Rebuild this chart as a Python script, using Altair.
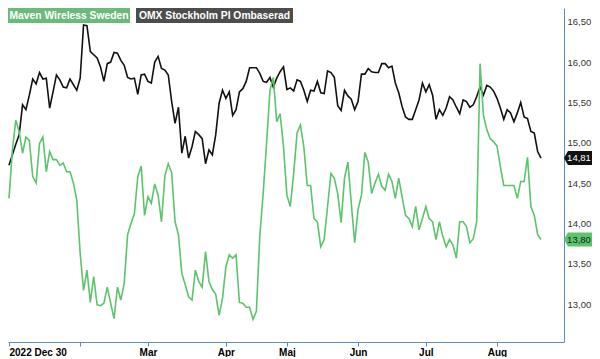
import altair as alt
import pandas as pd

series_names = ["Maven Wireless Sweden", "OMX Stockholm PI Ombaserad"]

maven = [
    14.31, 14.91, 15.28, 15.14, 14.87, 15.07, 15.03, 14.58, 14.50, 14.99,
    15.07, 14.64, 14.89, 14.79, 14.79, 14.72, 14.75, 14.64, 14.64, 14.50,
    14.29, 13.63, 13.17, 13.42, 13.02, 13.34, 12.99, 12.98, 13.01, 13.21,
    13.01, 12.82, 13.21, 13.05, 13.26, 13.86, 14.00, 14.12, 14.58, 14.71,
    14.10, 14.33, 14.25, 14.49, 14.35, 14.02, 14.59, 14.74, 14.63, 14.02,
    13.86, 13.38, 13.24, 13.09, 13.05, 13.42, 13.28, 13.21, 13.65, 13.28,
    13.18, 13.12, 12.86, 13.07, 13.46, 13.61, 13.57, 13.61, 13.02, 13.01,
    12.96, 12.96, 12.81, 12.91, 13.84, 14.37, 14.99, 15.65, 15.81, 15.26,
    15.36, 14.95, 14.35, 14.21, 14.62, 15.12, 15.22, 14.95, 14.47, 14.47,
    14.06, 14.02, 13.71, 13.80, 14.21, 14.62, 14.56, 14.37, 14.01, 14.56,
    14.76, 14.25, 13.76, 14.17, 14.35, 14.88, 14.76, 14.37, 14.50, 14.61,
    14.46, 14.41, 14.61, 14.52, 14.31, 14.56, 14.33, 14.10, 14.06, 13.96,
    14.21, 13.92, 14.06, 14.21, 14.06, 14.02, 13.80, 14.02, 13.84, 13.71,
    13.80, 13.73, 13.57, 14.02, 14.02, 13.96, 13.76, 13.81, 14.02, 15.98,
    15.34, 15.16, 15.05, 15.01, 14.96, 14.70, 14.47, 14.47, 14.47, 14.47,
    14.31, 14.52, 14.52, 14.82, 14.21, 14.10, 13.86, 13.80,
]

omx = [
    14.72, 14.85, 14.98, 15.10, 15.47, 15.41, 15.59, 15.79, 15.73, 15.87,
    15.79, 15.80, 15.43, 15.63, 15.84, 15.78, 15.69, 15.68, 15.79, 15.72,
    15.65, 15.80, 16.46, 16.45, 16.13, 16.09, 16.05, 15.94, 15.76, 15.98,
    16.00, 16.12, 16.11, 16.02, 15.96, 15.81, 15.79, 15.80, 15.60, 15.84,
    15.85, 15.76, 15.74, 16.00, 16.07, 15.92, 15.90, 15.84, 15.51, 15.24,
    15.44, 14.87, 15.08, 14.81, 14.95, 15.14, 15.10, 15.05, 14.74, 14.91,
    14.85, 15.10, 15.49, 15.65, 15.55, 15.63, 15.34, 15.41, 15.63, 15.67,
    15.76, 15.93, 15.93, 15.93, 15.86, 15.76, 15.75, 15.81, 15.69, 15.80,
    15.88, 15.94, 15.66, 15.68, 15.64, 15.78, 15.76, 15.65, 15.51, 15.65,
    15.64, 15.76, 15.62, 15.61, 15.89, 15.87, 15.81, 15.46, 15.40, 15.65,
    15.58, 15.54, 15.41, 15.51, 15.85, 15.85, 15.92, 15.88, 15.87, 15.87,
    15.98, 15.98, 15.93, 15.95, 15.74, 15.62, 15.45, 15.32, 15.29, 15.29,
    15.41, 15.53, 15.74, 15.63, 15.72, 15.59, 15.29, 15.41, 15.34, 15.43,
    15.57, 15.53, 15.44, 15.36, 15.53, 15.51, 15.44, 15.47, 15.57, 15.69,
    15.59, 15.71, 15.69, 15.64, 15.55, 15.43, 15.29, 15.41, 15.37, 15.26,
    15.37, 15.50, 15.32, 15.30, 15.14, 15.12, 14.89, 14.81,
]

x_tick_values = [0, 21, 41, 64, 82, 103, 123, 144]
x_tick_labels = ["2022 Dec 30", "", "Mar", "Apr", "Maj", "Jun", "Jul", "Aug"]
y_tick_values = [13.0, 13.5, 14.0, 14.5, 15.0, 15.5, 16.0, 16.5]

GREEN = "#5cc46c"
BLACK = "#111111"
AXIS = "#5b8db8"
FONT = "Liberation Sans"

W = 556
H = 334

n = len(maven)
df_m = pd.DataFrame({"day": list(range(n)), "value": maven, "series": series_names[0]})
df_o = pd.DataFrame({"day": list(range(len(omx))), "value": omx, "series": series_names[1]})

# x label expression from the tick lists
label_expr = "''"
for v, lab in reversed(list(zip(x_tick_values, x_tick_labels))):
    label_expr = f"datum.value == {v} ? '{lab}' : ({label_expr})"

x_enc = alt.X(
    "day:Q",
    scale=alt.Scale(domain=[-0.295, 163.77], nice=False, zero=False),
    axis=alt.Axis(
        values=x_tick_values, labelExpr=label_expr, grid=False,
        domainColor=AXIS, tickColor=AXIS, tickSize=4, labelPadding=1,
        labelFont=FONT, labelFontSize=10, labelFontWeight="bold",
        labelColor="#000000", labelFlush=5, labelOverlap=False, title=None,
    ),
)
y_enc = alt.Y(
    "value:Q",
    scale=alt.Scale(domain=[12.53, 16.67], nice=False, zero=False),
    axis=alt.Axis(
        orient="right", values=y_tick_values, grid=False, ticks=False,
        labelExpr="replace(format(datum.value, '.2f'), '.', ',')",
        domainColor=AXIS, labelPadding=3, labelFont=FONT, labelFontSize=9.5,
        labelColor="#333333", title=None,
    ),
)

color_scale = alt.Scale(domain=series_names, range=[GREEN, BLACK])

line_o = alt.Chart(df_o).mark_line(strokeWidth=1.6, color=BLACK).encode(x=x_enc, y=y_enc)
line_m = alt.Chart(df_m).mark_line(strokeWidth=1.6, color=GREEN).encode(x="day:Q", y="value:Q")

last_df = pd.DataFrame({
    "series": series_names,
    "value": [maven[-1], omx[-1]],
    "txtcolor": ["#1a1a1a", "#ffffff"],
})
last_df["label"] = last_df["value"].map(lambda v: f"{v:.2f}".replace(".", ","))

tag_path = "M -1 0 L -0.72 -0.5 L 1 -0.5 L 1 0.5 L -0.72 0.5 Z"
tags = alt.Chart(last_df).mark_point(
    shape=tag_path, size=784, filled=True, opacity=1, strokeWidth=0
).encode(
    x=alt.value(W + 14), y="value:Q",
    color=alt.Color("series:N", scale=color_scale, legend=None),
)
tag_text = alt.Chart(last_df).mark_text(
    font=FONT, fontSize=9.5, align="center", baseline="middle"
).encode(
    x=alt.value(W + 15), y="value:Q", text="label:N",
    color=alt.Color("txtcolor:N", scale=None),
)

leg_df0 = pd.DataFrame({"name": [series_names[0]]})
leg_df1 = pd.DataFrame({"name": [series_names[1]]})
leg_box0 = alt.Chart(leg_df0).mark_rect(color="#6cb97c").encode(
    x=alt.value(0), x2=alt.value(122), y=alt.value(0), y2=alt.value(15))
leg_box1 = alt.Chart(leg_df1).mark_rect(color="#4d4d4d").encode(
    x=alt.value(128), x2=alt.value(285), y=alt.value(0), y2=alt.value(15))
leg_txt0 = alt.Chart(leg_df0).mark_text(
    font=FONT, fontSize=10.3, fontWeight="bold", color="white", align="center", baseline="middle"
).encode(x=alt.value(61), y=alt.value(8), text="name:N")
leg_txt1 = alt.Chart(leg_df1).mark_text(
    font=FONT, fontSize=10.3, fontWeight="bold", color="white", align="center", baseline="middle"
).encode(x=alt.value(206.5), y=alt.value(8), text="name:N")

chart = alt.layer(
    line_o, line_m, tags, tag_text, leg_box0, leg_box1, leg_txt0, leg_txt1
).properties(
    width=W, height=H,
    autosize=alt.AutoSizeParams(type="none"),
    padding={"left": 0, "top": 0, "right": 28, "bottom": 15},
    background="white",
).configure_view(stroke=None)

chart.save("out.html", embed_options={"renderer": "svg", "actions": False})
